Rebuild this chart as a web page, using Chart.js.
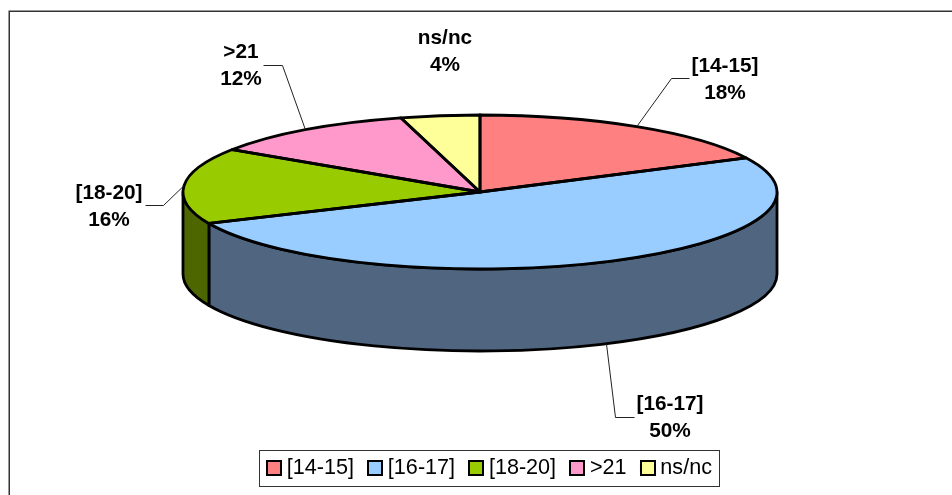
<!DOCTYPE html>
<html>
<head>
<meta charset="utf-8">
<style>html,body{margin:0;padding:0;background:#fff}canvas{display:block}</style>
<script src="https://cdn.jsdelivr.net/npm/chart.js@4/dist/chart.umd.min.js"></script>
</head>
<body>
<canvas id="c" width="952" height="495"></canvas>
<script>
const categories = ['[14-15]', '[16-17]', '[18-20]', '>21', 'ns/nc'];
const shares = [17.7, 50.6, 16, 11.4, 4.3];
const percentLabels = ['18%', '50%', '16%', '12%', '4%'];
const topColors = ['#FF8080', '#99CCFF', '#99CC00', '#FF99CC', '#FFFF99'];
const sideColors = ['#804040', '#4F6580', '#4D6600', '#804D66', '#808050'];

// layout of the tilted pie
const pie = {cx: 480, cy: 192, rx: 297, ry: 77, depth: 82};
// label layout: text centre and leader elbow/end, per category
const labelCentres = [[725, 65], [670, 403], [109, 192], [241, 51], [445, 37]];
const leaderBends = [[[671, 78], [689, 78]], [[615, 417], [634, 417]], [[163, 205], [145, 205]], [[282, 65], [263, 65]], null];
const labelLineGap = 27.5;

const pie3d = {
  id: 'pie3d',
  beforeDatasetsDraw(chart) {
    const ctx = chart.ctx;
    const arcs = chart.getDatasetMeta(0).data;
    ctx.save();
    // chart frame
    ctx.strokeStyle = '#333';
    ctx.lineWidth = 1.5;
    ctx.beginPath();
    ctx.moveTo(9.25, 495); ctx.lineTo(9.25, 11.25); ctx.lineTo(952, 11.25);
    ctx.stroke();
    // wall of the cylinder
    ctx.lineWidth = 2.8;
    ctx.lineJoin = 'round';
    ctx.strokeStyle = '#000';
    arcs.forEach((arc, i) => {
      const a0 = Math.max(arc.startAngle, 0), a1 = Math.min(arc.endAngle, Math.PI);
      if (a1 <= a0) return;
      ctx.beginPath();
      ctx.ellipse(pie.cx, pie.cy, pie.rx, pie.ry, 0, a0, a1);
      ctx.ellipse(pie.cx, pie.cy + pie.depth, pie.rx, pie.ry, 0, a1, a0, true);
      ctx.closePath();
      ctx.fillStyle = sideColors[i];
      ctx.fill();
      ctx.stroke();
    });
    ctx.restore();
    ctx.save();
    const a = arcs[0];
    ctx.translate(pie.cx, pie.cy);
    ctx.scale(pie.rx / a.outerRadius, pie.ry / a.outerRadius);
    ctx.translate(-a.x, -a.y);
  },
  afterDatasetsDraw(chart) {
    const ctx = chart.ctx;
    ctx.restore();
    const arcs = chart.getDatasetMeta(0).data;
    ctx.save();
    ctx.strokeStyle = '#000';
    ctx.lineWidth = 2.8;
    ctx.lineJoin = 'round';
    arcs.forEach(arc => {
      ctx.beginPath();
      ctx.moveTo(pie.cx, pie.cy);
      ctx.ellipse(pie.cx, pie.cy, pie.rx, pie.ry, 0, arc.startAngle, arc.endAngle);
      ctx.closePath();
      ctx.stroke();
    });
    // leader lines
    ctx.lineWidth = 1;
    ctx.strokeStyle = '#222';
    arcs.forEach((arc, i) => {
      if (!leaderBends[i]) return;
      const mid = (arc.startAngle + arc.endAngle) / 2;
      const sy = Math.sin(mid);
      ctx.beginPath();
      ctx.moveTo(pie.cx + pie.rx * Math.cos(mid), pie.cy + pie.ry * sy + (sy > 0 ? pie.depth : 0));
      leaderBends[i].forEach(p => ctx.lineTo(p[0] + .5, p[1] + .5));
      ctx.stroke();
    });
    // data labels
    ctx.fillStyle = '#000';
    ctx.font = 'bold 20.8px "Liberation Sans"';
    ctx.textAlign = 'center';
    ctx.textBaseline = 'middle';
    categories.forEach((c, i) => {
      const [x, y] = labelCentres[i];
      ctx.fillText(c, x, y + 1);
      ctx.fillText(percentLabels[i], x, y + 1 + labelLineGap);
    });
    ctx.restore();
  },
  afterDraw(chart) {
    const ctx = chart.ctx;
    const boxes = chart.legend.legendHitBoxes;
    const first = boxes[0], last = boxes[boxes.length - 1];
    const midY = first.top + first.height / 2;
    ctx.save();
    ctx.strokeStyle = '#333';
    ctx.lineWidth = 1;
    ctx.strokeRect(Math.round(first.left - 7) + .5, Math.round(midY - 18) + .5,
      Math.round(last.left + last.width + 7 - first.left + 7), 36);
    ctx.strokeStyle = '#000';
    ctx.lineWidth = 2;
    boxes.forEach((b, i) => {
      ctx.fillStyle = topColors[i];
      const y = Math.round(midY - 7);
      ctx.fillRect(Math.round(b.left) + 1, y, 14, 14);
      ctx.strokeRect(Math.round(b.left) + 1, y, 14, 14);
    });
    ctx.restore();
  }
};

new Chart(document.getElementById('c'), {
  type: 'pie',
  data: {
    labels: categories,
    datasets: [{
      data: shares,
      backgroundColor: topColors,
      borderWidth: 0,
      clip: false
    }]
  },
  plugins: [pie3d],
  options: {
    responsive: false,
    animation: false,
    radius: 297,
    layout: {padding: {bottom: 6, left: 26}},
    plugins: {
      tooltip: {enabled: false},
      title: {display: false},
      legend: {
        position: 'bottom',
        labels: {
          boxWidth: 10,
          boxHeight: 10,
          padding: 13,
          color: '#000',
          font: {family: '"Liberation Sans"', size: 21.6}
        }
      }
    }
  }
});
</script>
</body>
</html>
